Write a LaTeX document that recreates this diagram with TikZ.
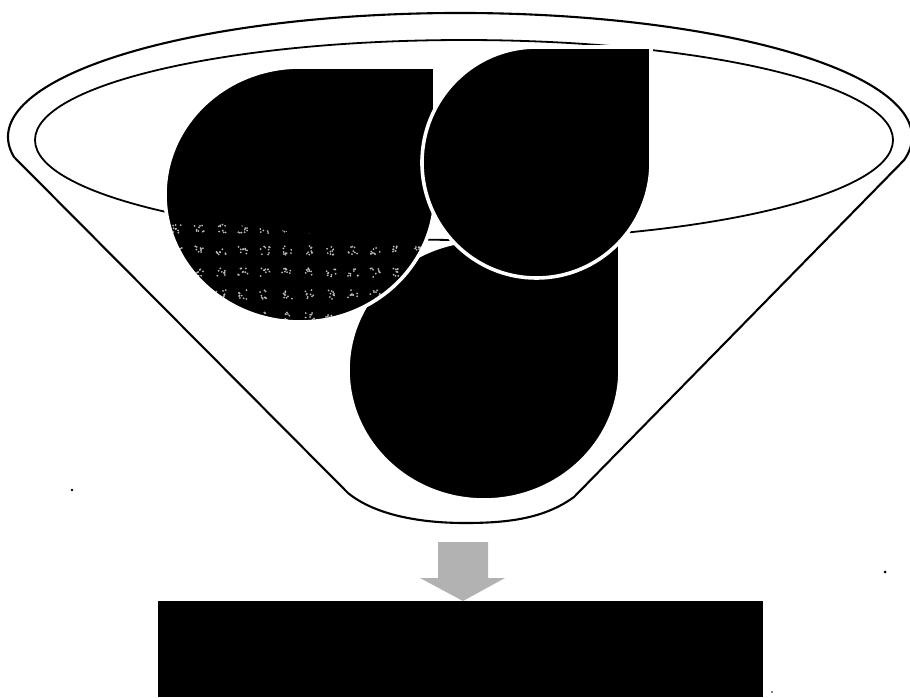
\documentclass[tikz,border=0pt]{standalone}
\begin{document}
\begin{tikzpicture}[x=1pt,y=-1pt,line join=round,
  outline/.style={draw=black,line width=2.1pt},
  rimline/.style={draw=black,line width=1.8pt},
  dropbody/.style={fill=black},
  dropedge/.style={draw=white,line width=3.6pt},
  blockarrow/.style={fill=gray!60},
  speck/.style={fill=black}]
\useasboundingbox (0,0) rectangle (910,697);
% funnel outline
\draw[outline] (348,493) -- (14,157)
  arc[start angle=170.7,end angle=370.7,x radius=452,y radius=124]
  -- (574,497) .. controls (545,518) and (510,523) .. (465,523)
  .. controls (420,523) and (375,515) .. (348,493);
% inner rim
\draw[rimline] (464,140) ellipse [x radius=429,y radius=100];
% drop 3 (bottom)
\fill[dropbody] (484,240) -- (620,240) -- (620,370)
  arc[start angle=0,end angle=270,x radius=136,y radius=130] -- cycle;
\draw[dropedge] (484,240) -- (620,240) -- (620,370)
  arc[start angle=0,end angle=270,x radius=136,y radius=130] -- cycle;
% drop 1 (left)
\fill[dropbody] (300,67) -- (435,67) -- (435,194.5)
  arc[start angle=0,end angle=270,x radius=135,y radius=127.5] -- cycle;
\begin{scope}
  \clip (300,67) -- (435,67) -- (435,194.5)
    arc[start angle=0,end angle=270,x radius=135,y radius=127.5] -- cycle;
  \clip (35,140) arc[start angle=180,end angle=0,x radius=429,y radius=100]
    -- (893,697) -- (35,697) -- cycle;
  \pgfmathsetseed{7}
  \foreach \row in {0,...,4}{
    \foreach \col in {0,...,11}{
      \foreach \k in {1,...,9}{
        \pgfmathsetmacro\px{172+22*\col+10*rnd}
        \pgfmathsetmacro\py{224+22*\row+9*rnd}
        \fill[gray!55] (\px,\py) circle[radius=1.0];
      }
    }
  }
\end{scope}
\draw[dropedge] (300,67) -- (435,67) -- (435,194.5)
  arc[start angle=0,end angle=270,x radius=135,y radius=127.5] -- cycle;
% drop 2 (right)
\fill[dropbody] (536.5,47) -- (651,47) -- (651,162.5)
  arc[start angle=0,end angle=270,x radius=114.5,y radius=115.5] -- cycle;
\draw[dropedge] (536.5,47) -- (651,47) -- (651,162.5)
  arc[start angle=0,end angle=270,x radius=114.5,y radius=115.5] -- cycle;
% black box
\node[fill=black,minimum width=605pt,minimum height=96pt,inner sep=0pt,
  anchor=north west] (box) at (158,601) {};
% arrow
\coordinate (tip) at (463,601);
\fill[blockarrow] (438,542) -- (488,542) -- (488,578) -- (505,578) -- (tip)
  -- (420,578) -- (438,578) -- cycle;
% specks
\fill[speck] (72,490) circle[radius=1.3];
\fill[speck] (885,572) circle[radius=1.5];
\fill[speck] (772,692) circle[radius=0.8];
\end{tikzpicture}
\end{document}
